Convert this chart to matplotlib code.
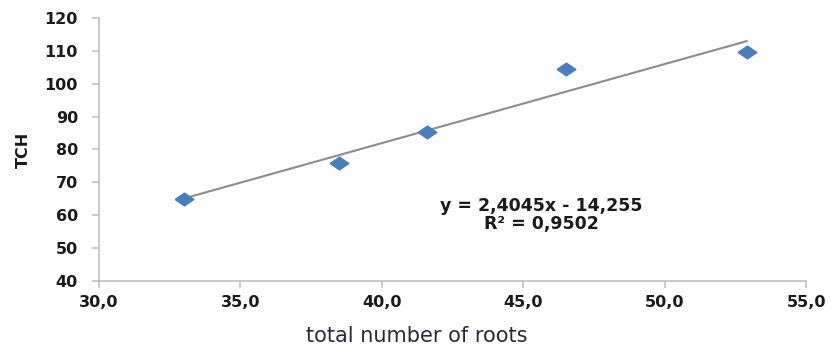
import matplotlib.pyplot as plt
import numpy as np

plt.rcParams['font.family'] = ['DejaVu Sans']

roots = [33.0, 38.5, 41.6, 46.5, 52.9]
tch = [65.0, 75.8, 85.2, 104.6, 109.5]
slope = 2.4045
intercept = -14.255
r2 = 0.9502

fig = plt.figure(figsize=(8.31, 3.45), dpi=100)
ax = fig.add_axes([0.119, 0.1855, 0.851, 0.7625])

# trendline across the observed range
xs = np.array([min(roots), max(roots)])
ax.plot(xs, slope * xs + intercept, color='#8c8c8c', lw=1.5, zorder=2)

diamond = [(-1, 0), (0, 0.68), (1, 0), (0, -0.68), (-1, 0)]
ax.plot(roots, tch, ls='none', marker=diamond, markersize=13.5,
        color='#4a7ebb', markeredgecolor='#4a7ebb', zorder=3)

ax.set_xlim(30, 55)
ax.set_ylim(40, 120)
ax.set_xticks(np.arange(30, 55.1, 5))
ax.set_yticks(np.arange(40, 121, 10))
ax.set_xticklabels([f'{v:.1f}'.replace('.', ',') for v in np.arange(30, 55.1, 5)])

for s in ['top', 'right']:
    ax.spines[s].set_visible(False)
for s in ['left', 'bottom']:
    ax.spines[s].set_color('#c0c0c0')
    ax.spines[s].set_linewidth(1.2)
ax.tick_params(colors='#c0c0c0', length=5, width=1.2, labelcolor='#1a1a1a',
               labelsize=11.5)
ax.tick_params(axis='y', pad=10)
ax.tick_params(axis='x', pad=5)
for lab in ax.get_xticklabels() + ax.get_yticklabels():
    lab.set_fontweight('bold')

ax.set_ylabel('TCH', fontsize=11.5, fontweight='bold', color='#1a1a1a', labelpad=10)
ax.set_xlabel('total number of roots', fontsize=15, color='#2a2a3a', labelpad=9)
ax.xaxis.set_label_coords(0.45, -0.17)

eq = (f'y = {slope:.4f}x - {-intercept:.3f}\nR² = {r2:.4f}').replace('.', ',')
ax.text(45.63, 60.0, eq, ha='center', va='center', multialignment='center',
        linespacing=1.0, fontsize=12.5, fontweight='bold', color='#1a1a1a')

fig.savefig('out.png', dpi=100)
